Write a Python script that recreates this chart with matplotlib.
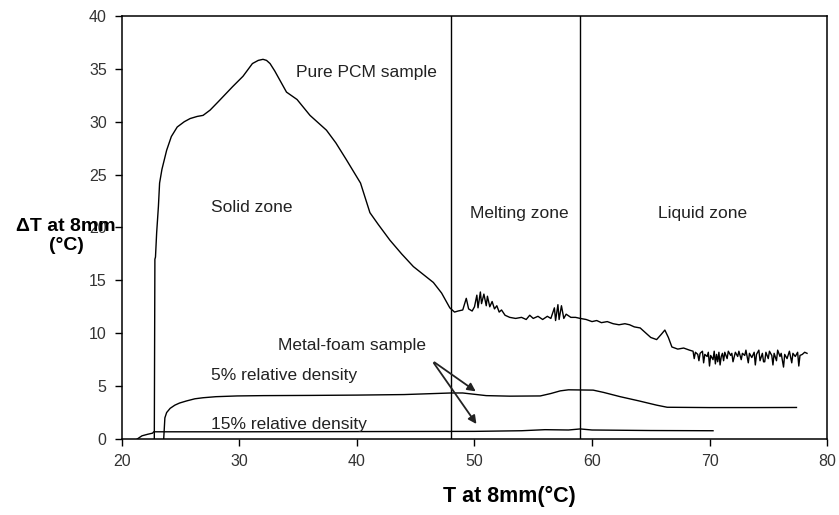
import matplotlib.pyplot as plt
import numpy as np

# pure PCM sample
pcm_x = [22.75, 22.8, 22.85, 22.95, 23.1, 23.2, 23.4, 23.8, 24.2, 24.7, 25.3, 25.8,
         26.4, 26.9, 27.5, 28.2, 29.4, 30.3, 31.1, 31.6, 32.0, 32.3, 32.6, 33.0,
         33.5, 34.0, 34.9, 36.0, 37.4, 38.2, 39.1, 40.3, 41.1, 41.8, 42.8, 43.8,
         44.8, 45.6, 46.5, 47.2, 47.9,
         48.3, 48.6, 49.0, 49.3, 49.5, 49.8, 50.0, 50.2, 50.3, 50.5, 50.6, 50.8,
         51.0, 51.1, 51.3, 51.5, 51.7, 51.9, 52.1, 52.3, 52.6, 53.0, 53.5, 54.0,
         54.4, 54.7, 55.0, 55.4, 55.8, 56.2, 56.5, 56.8, 56.9, 57.1, 57.2, 57.4,
         57.6, 57.8, 58.2, 58.6, 59.0, 59.5, 60.0, 60.4, 60.8, 61.3, 61.8, 62.3,
         62.8, 63.2, 63.6, 64.1, 64.6, 65.0, 65.5, 65.9, 66.2, 66.5, 66.8, 67.3,
         67.8, 68.3,
         68.6, 68.7, 68.8, 69.0, 69.1, 69.2, 69.4, 69.5, 69.6, 69.8, 69.9, 70.0,
         70.1, 70.3, 70.4, 70.5, 70.6, 70.7, 70.8, 70.9, 71.0, 71.1, 71.2, 71.3,
         71.5, 71.6, 71.8, 71.9, 72.0, 72.2, 72.4, 72.5, 72.7, 72.8, 73.0, 73.1,
         73.3, 73.4, 73.6, 73.8, 73.9, 74.0, 74.2, 74.3, 74.5, 74.6, 74.7, 74.8,
         75.0, 75.1, 75.3, 75.4, 75.5, 75.7, 75.8, 76.0, 76.1, 76.3, 76.4, 76.6,
         76.8, 77.0, 77.1, 77.3, 77.5, 77.6, 77.7, 77.9, 78.1, 78.3]
pcm_y = [0.0, 17.0, 17.2, 19.5, 22.0, 24.2, 25.5, 27.3, 28.6, 29.5, 30.0, 30.3,
         30.5, 30.6, 31.1, 31.9, 33.3, 34.3, 35.5, 35.8, 35.9, 35.8, 35.5, 34.8,
         33.8, 32.8, 32.1, 30.6, 29.2, 28.0, 26.4, 24.2, 21.4, 20.3, 18.8, 17.5,
         16.3, 15.6, 14.8, 13.8, 12.4,
         12.0, 12.1, 12.2, 13.3, 12.3, 12.1, 12.5, 13.6, 12.4, 13.9, 12.8, 13.7,
         12.6, 13.5, 12.5, 13.0, 12.3, 12.6, 12.0, 12.2, 11.7, 11.5, 11.4, 11.5,
         11.3, 11.7, 11.4, 11.6, 11.3, 11.6, 11.4, 12.4, 11.2, 12.7, 11.3, 12.6,
         11.4, 11.8, 11.5, 11.5, 11.4, 11.3, 11.1, 11.2, 11.0, 11.1, 10.9, 10.8,
         10.9, 10.8, 10.6, 10.5, 10.0, 9.6, 9.4, 9.9, 10.3, 9.6, 8.7, 8.5,
         8.6, 8.4,
         8.3, 7.6, 8.2, 8.0, 7.4, 8.1, 8.3, 7.2, 8.0, 7.8, 8.2, 6.9,
         7.9, 7.5, 8.3, 7.1, 8.0, 7.3, 8.2, 7.0, 7.8, 8.1, 7.4, 8.2,
         7.6, 8.3, 7.9, 8.1, 7.3, 8.2, 7.8, 8.3, 7.5, 8.1, 7.9, 8.4,
         7.2, 8.1, 7.7, 8.2, 7.0, 8.0, 8.4, 7.4, 8.1, 7.3, 7.3, 8.2,
         7.6, 8.3, 7.9, 7.0, 8.1, 7.4, 8.4, 7.8, 8.1, 6.8, 8.0, 7.6,
         8.3, 7.2, 8.1, 7.8, 8.2, 6.9, 7.9, 8.0, 8.2, 8.1]

# metal foam, 5% relative density
f5_x = [23.55, 23.6, 23.65, 23.8, 24.1, 24.5, 24.9, 25.5, 26.2, 26.9, 28.0, 29.8,
        32.0, 36.0, 40.0, 44.0, 48.0, 49.0, 50.2, 51.0, 53.0, 55.6, 56.5, 57.3,
        58.0, 60.1, 61.0, 62.4, 64.0, 65.5, 66.4, 70.0, 74.0, 77.4]
f5_y = [0.0, 1.0, 2.0, 2.5, 2.9, 3.2, 3.4, 3.6, 3.8, 3.9, 4.0, 4.07,
        4.1, 4.12, 4.15, 4.2, 4.35, 4.35, 4.2, 4.1, 4.05, 4.07, 4.3, 4.55,
        4.65, 4.62, 4.4, 4.0, 3.6, 3.2, 3.0, 2.97, 2.97, 2.98]

# metal foam, 15% relative density
f15_x = [21.3, 21.7, 22.2, 22.6, 22.7, 30.0, 40.0, 50.0, 54.0, 56.0, 58.0, 59.0,
         60.0, 65.0, 70.3]
f15_y = [0.0, 0.3, 0.45, 0.55, 0.68, 0.68, 0.7, 0.72, 0.78, 0.88, 0.85, 0.95,
         0.85, 0.8, 0.78]

zone_bounds = [48, 59]

plt.rcParams['font.family'] = ['Liberation Sans', 'DejaVu Sans']

fig, ax = plt.subplots(figsize=(8.39, 5.15), dpi=100)
fig.subplots_adjust(left=0.1454, right=0.9857, bottom=0.1476, top=0.969)

ax.plot(pcm_x, pcm_y, color='black', lw=1.0)
ax.plot(f5_x, f5_y, color='black', lw=1.0)
ax.plot(f15_x, f15_y, color='black', lw=1.0)
for xb in zone_bounds:
    ax.axvline(xb, color='black', lw=1.0)

ax.set_xlim(20, 80)
ax.set_ylim(0, 40)
ax.set_xticks(np.arange(20, 81, 10))
ax.set_yticks(np.arange(0, 41, 5))
ax.tick_params(direction='out', length=5, width=1, labelsize=11.5,
               labelcolor='#333333', pad=6)
for s in ax.spines.values():
    s.set_linewidth(1.1)

fs = 12.5
ax.text(34.8, 34.7, 'Pure PCM sample', fontsize=fs, va='center', color='#222222')
ax.text(27.6, 21.9, 'Solid zone', fontsize=fs, va='center', color='#222222')
ax.text(49.6, 21.3, 'Melting zone', fontsize=fs, va='center', color='#222222')
ax.text(65.6, 21.3, 'Liquid zone', fontsize=fs, va='center', color='#222222')
ax.text(33.3, 8.8, 'Metal-foam sample', fontsize=fs, va='center', color='#222222')
ax.text(27.6, 6.0, '5% relative density', fontsize=fs, va='center', color='#222222')
ax.text(27.6, 1.4, '15% relative density', fontsize=fs, va='center', color='#222222')

arrow = dict(arrowstyle='-|>', color='#222222', lw=1.3, mutation_scale=12)
ax.annotate('', xy=(50.3, 4.35), xytext=(46.4, 7.4), arrowprops=arrow)
ax.annotate('', xy=(50.3, 1.2), xytext=(46.4, 7.4), arrowprops=arrow)

ax.text(-0.079, 0.48, 'ΔT at 8mm\n(°C)', transform=ax.transAxes, fontsize=14,
        fontweight='bold', ha='center', va='center', linespacing=1.1)
ax.text(0.549, -0.137, 'T at 8mm(°C)', transform=ax.transAxes, fontsize=15.5,
        fontweight='bold', ha='center', va='center')

fig.savefig('out.png', dpi=100)
